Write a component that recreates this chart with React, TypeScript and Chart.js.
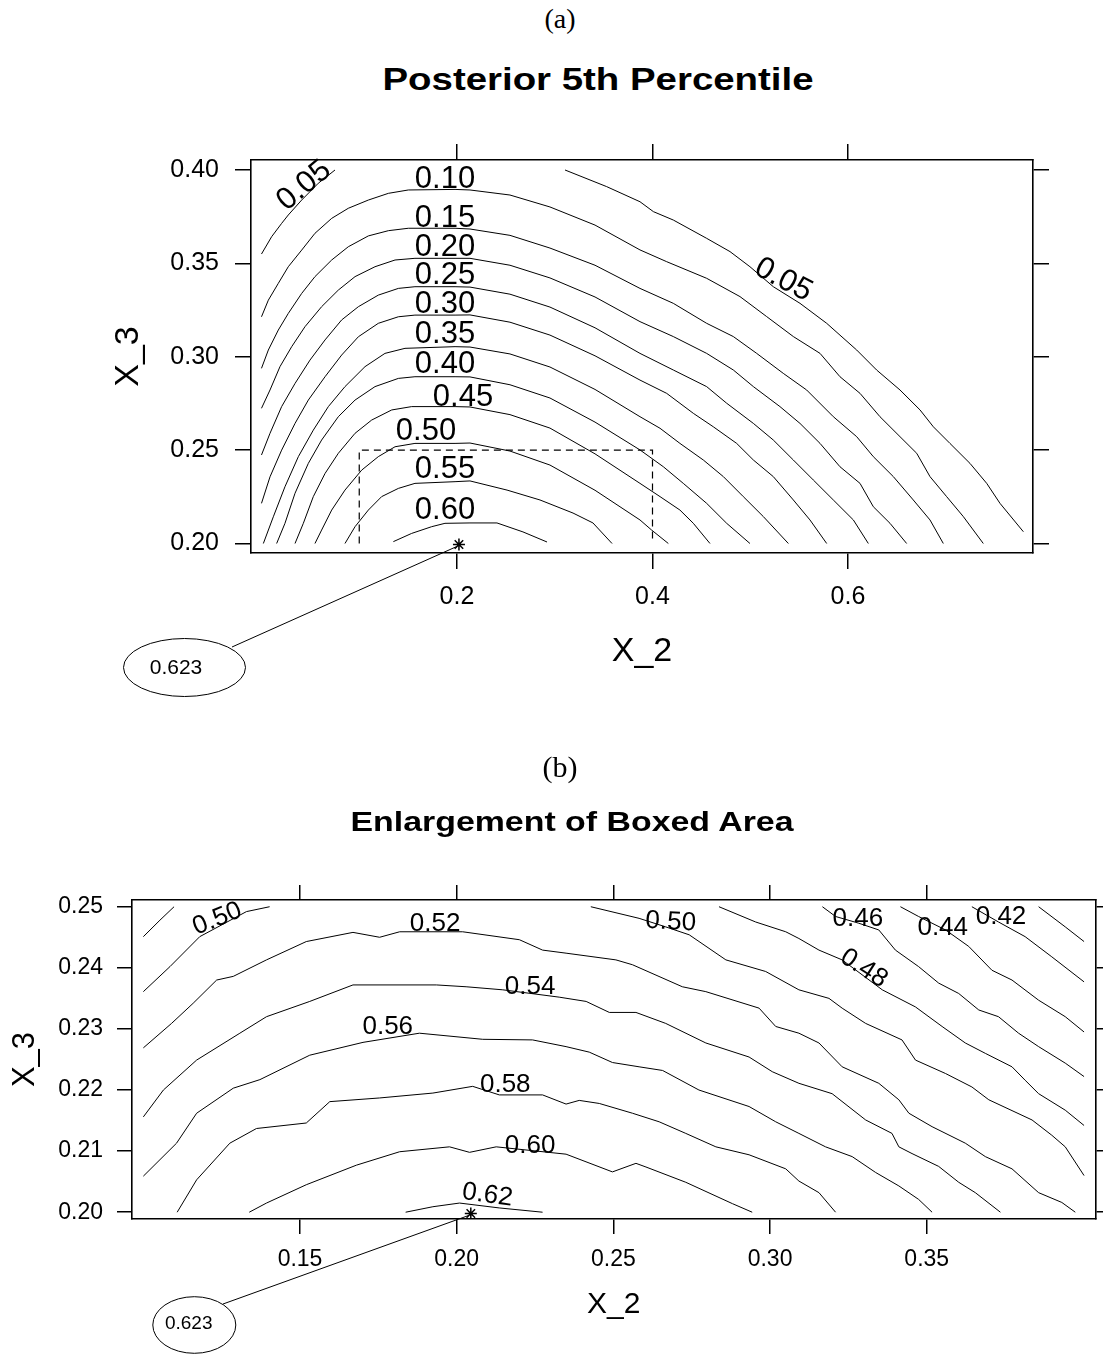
import React, { useEffect, useRef } from "react";
import { Chart, registerables } from "chart.js";

Chart.register(...registerables);

type Pt = [number, number];

const FONT = '"Liberation Sans", Arial, Helvetica, sans-serif';
const SERIF = '"Liberation Serif", "Times New Roman", serif';

/* ================= Panel (a): Posterior 5th Percentile ================= */
const A_X_TICKS = [0.2, 0.4, 0.6];
const A_Y_TICKS = [0.2, 0.25, 0.3, 0.35, 0.4];

const A_C005_LEFT: Pt[] = [[0.0, 0.355], [0.0104, 0.3643], [0.0206, 0.3714], [0.0274, 0.3759], [0.0411, 0.3839], [0.0581, 0.3929], [0.0752, 0.4]];
const A_C005_RIGHT: Pt[] = [[0.3105, 0.4], [0.3531, 0.3911], [0.3872, 0.383], [0.4009, 0.3777], [0.4213, 0.3732], [0.4554, 0.3634], [0.4793, 0.3563], [0.4997, 0.3482], [0.5236, 0.3375], [0.5509, 0.3286], [0.5782, 0.3179], [0.6089, 0.3036], [0.6293, 0.2929], [0.6532, 0.2822], [0.6737, 0.2715], [0.6873, 0.2625], [0.7043, 0.2536], [0.7248, 0.2429], [0.7419, 0.2322], [0.7555, 0.2215], [0.7794, 0.2063]];
const A_C010: Pt[] = [[0.0, 0.3214], [0.007, 0.3303], [0.0172, 0.3393], [0.0274, 0.3482], [0.0411, 0.3571], [0.0547, 0.3661], [0.0718, 0.3741], [0.0888, 0.3795], [0.1093, 0.3839], [0.1298, 0.3875], [0.1502, 0.3893], [0.198, 0.3896], [0.2133, 0.3893], [0.2542, 0.3866], [0.2951, 0.3802], [0.3412, 0.3705], [0.3872, 0.3572], [0.4145, 0.3509], [0.4554, 0.342], [0.4895, 0.3322], [0.5168, 0.3215], [0.5441, 0.3108], [0.5714, 0.3018], [0.5918, 0.2893], [0.6123, 0.2804], [0.6327, 0.2679], [0.6532, 0.2572], [0.6703, 0.2483], [0.6839, 0.2358], [0.7009, 0.2251], [0.718, 0.2144], [0.7384, 0.2]];
const A_C015: Pt[] = [[0.0, 0.2938], [0.007, 0.3036], [0.0172, 0.3143], [0.0274, 0.3232], [0.0411, 0.3339], [0.0547, 0.3429], [0.0718, 0.3518], [0.0888, 0.3589], [0.1093, 0.3647], [0.1298, 0.3675], [0.1502, 0.3688], [0.198, 0.3688], [0.2133, 0.3684], [0.2542, 0.365], [0.2951, 0.3582], [0.3412, 0.349], [0.3872, 0.3366], [0.4213, 0.3286], [0.4554, 0.3179], [0.4827, 0.3108], [0.5066, 0.3018], [0.5338, 0.2911], [0.5577, 0.2822], [0.585, 0.2679], [0.6089, 0.2572], [0.6259, 0.2465], [0.6464, 0.2358], [0.6668, 0.2233], [0.6839, 0.2126], [0.6975, 0.2]];
const A_C020: Pt[] = [[0.0, 0.2724], [0.0087, 0.2822], [0.0189, 0.2947], [0.0309, 0.3054], [0.0445, 0.3161], [0.0615, 0.3268], [0.0786, 0.3357], [0.0957, 0.3429], [0.1161, 0.3482], [0.1366, 0.3518], [0.157, 0.3527], [0.198, 0.3527], [0.2133, 0.3527], [0.2542, 0.349], [0.2951, 0.3422], [0.3412, 0.332], [0.3872, 0.3188], [0.4213, 0.3108], [0.4554, 0.3018], [0.4827, 0.2929], [0.5032, 0.284], [0.5304, 0.2733], [0.5509, 0.2643], [0.5714, 0.2536], [0.5918, 0.2411], [0.6123, 0.2322], [0.6259, 0.2197], [0.643, 0.2108], [0.66, 0.2]];
const A_C025: Pt[] = [[0.0, 0.2474], [0.0087, 0.259], [0.0206, 0.2733], [0.0343, 0.2857], [0.0496, 0.2982], [0.065, 0.309], [0.082, 0.3197], [0.0991, 0.3268], [0.1195, 0.333], [0.14, 0.3366], [0.157, 0.3375], [0.198, 0.3375], [0.2133, 0.3373], [0.2542, 0.3335], [0.2951, 0.3266], [0.3412, 0.3155], [0.3872, 0.3018], [0.4213, 0.2929], [0.4554, 0.284], [0.4759, 0.2751], [0.5032, 0.2643], [0.5236, 0.2554], [0.5441, 0.2447], [0.5645, 0.234], [0.585, 0.2233], [0.6055, 0.2126], [0.6208, 0.2]];
const A_C030: Pt[] = [[0.0, 0.2215], [0.0087, 0.2357], [0.0206, 0.25], [0.0343, 0.2643], [0.0479, 0.2768], [0.065, 0.2893], [0.082, 0.3009], [0.0991, 0.3107], [0.1195, 0.3179], [0.14, 0.3214], [0.157, 0.3223], [0.198, 0.3223], [0.2133, 0.3224], [0.2542, 0.3185], [0.2951, 0.3116], [0.3412, 0.3005], [0.3872, 0.2875], [0.4145, 0.2804], [0.4418, 0.2697], [0.4622, 0.2625], [0.4861, 0.2536], [0.5032, 0.2447], [0.5236, 0.2358], [0.5441, 0.2233], [0.5611, 0.2126], [0.5782, 0.2]];
const A_C035: Pt[] = [[0.0019, 0.2], [0.0121, 0.2143], [0.024, 0.2304], [0.0377, 0.2465], [0.053, 0.2607], [0.0684, 0.2733], [0.0854, 0.284], [0.1059, 0.2947], [0.1263, 0.3018], [0.1468, 0.3045], [0.198, 0.3054], [0.2133, 0.3052], [0.2542, 0.3015], [0.2951, 0.2945], [0.3412, 0.2825], [0.3872, 0.2679], [0.4077, 0.2617], [0.4281, 0.2536], [0.452, 0.2447], [0.4725, 0.2358], [0.4929, 0.2251], [0.5134, 0.2144], [0.539, 0.2]];
const A_C040: Pt[] = [[0.0155, 0.2], [0.024, 0.2108], [0.0343, 0.2269], [0.0479, 0.2429], [0.0615, 0.2554], [0.0786, 0.2679], [0.0957, 0.2768], [0.1161, 0.284], [0.14, 0.2884], [0.157, 0.2893], [0.198, 0.2893], [0.2133, 0.2892], [0.2542, 0.285], [0.2951, 0.2779], [0.3412, 0.265], [0.3872, 0.2501], [0.4111, 0.2411], [0.4315, 0.2322], [0.4554, 0.2215], [0.4759, 0.2108], [0.4997, 0.2]];
const A_C045: Pt[] = [[0.0343, 0.2], [0.0428, 0.2108], [0.053, 0.2251], [0.065, 0.2375], [0.0786, 0.2483], [0.0957, 0.259], [0.1127, 0.2661], [0.1332, 0.2715], [0.1536, 0.2733], [0.198, 0.2733], [0.2133, 0.2731], [0.2542, 0.269], [0.2951, 0.2618], [0.3412, 0.248], [0.3872, 0.2322], [0.4077, 0.2251], [0.4281, 0.2179], [0.4418, 0.2108], [0.4588, 0.2]];
const A_C050: Pt[] = [[0.0547, 0.2], [0.0615, 0.2072], [0.0718, 0.2179], [0.0854, 0.2286], [0.1025, 0.2393], [0.1195, 0.2465], [0.1366, 0.2518], [0.157, 0.2536], [0.198, 0.2536], [0.2133, 0.2538], [0.2542, 0.2495], [0.2951, 0.242], [0.3412, 0.2285], [0.3872, 0.2126], [0.3991, 0.2072], [0.4162, 0.2]];
const A_C055: Pt[] = [[0.0854, 0.2], [0.0957, 0.209], [0.1093, 0.2179], [0.1229, 0.2251], [0.14, 0.2295], [0.157, 0.2322], [0.198, 0.2331], [0.2133, 0.2335], [0.2512, 0.2286], [0.2849, 0.2233], [0.3187, 0.2163], [0.3391, 0.211], [0.3586, 0.2]];
const A_C060: Pt[] = [[0.1349, 0.201], [0.1536, 0.2054], [0.1741, 0.209], [0.1877, 0.2108], [0.2133, 0.211], [0.2409, 0.211], [0.2675, 0.2062], [0.2921, 0.2008]];

const A_CONTOURS: Pt[][] = [A_C005_LEFT, A_C005_RIGHT, A_C010, A_C015, A_C020, A_C025, A_C030, A_C035, A_C040, A_C045, A_C050, A_C055, A_C060];
const A_BOX: Pt[] = [[0.1, 0.2], [0.1, 0.25], [0.4, 0.25], [0.4, 0.2]];
const A_MAX: Pt[] = [[0.202, 0.1995]];
const A_MAX_TEXT = "0.623";

const A_LABEL_TEXT = ["0.05", "0.05", "0.10", "0.15", "0.20", "0.25", "0.30", "0.35", "0.40", "0.45", "0.50", "0.55", "0.60"];

/* ================= Panel (b): Enlargement of Boxed Area ================= */
const B_X_TICKS = [0.15, 0.2, 0.25, 0.3, 0.35];
const B_Y_TICKS = [0.2, 0.21, 0.22, 0.23, 0.24, 0.25];

const B_C040: Pt[] = [[0.3857, 0.25], [0.3942, 0.2467], [0.4002, 0.2443]];
const B_C042: Pt[] = [[0.3644, 0.25], [0.3729, 0.2475], [0.3814, 0.2451], [0.3899, 0.2418], [0.4002, 0.2377]];
const B_C044: Pt[] = [[0.3416, 0.25], [0.3474, 0.2484], [0.356, 0.2462], [0.3634, 0.2435], [0.3708, 0.2396], [0.3772, 0.238], [0.3857, 0.2347], [0.3942, 0.232], [0.4002, 0.2295]];
const B_C046: Pt[] = [[0.3167, 0.25], [0.3209, 0.2484], [0.3283, 0.2473], [0.3347, 0.2462], [0.34, 0.2429], [0.3474, 0.2402], [0.3538, 0.2375], [0.3602, 0.2358], [0.3666, 0.2331], [0.3729, 0.232], [0.3793, 0.2293], [0.3857, 0.2271], [0.3942, 0.2244], [0.4002, 0.2222]];
const B_C048_LEFT: Pt[] = [[0.1, 0.2451], [0.1053, 0.2478], [0.1098, 0.25]];
const B_C048_RIGHT: Pt[] = [[0.2837, 0.25], [0.2954, 0.2475], [0.305, 0.2459], [0.3092, 0.2448], [0.3156, 0.2429], [0.323, 0.2413], [0.3358, 0.2364], [0.3464, 0.2336], [0.3549, 0.2304], [0.3623, 0.2277], [0.3687, 0.226], [0.3772, 0.2238], [0.3814, 0.2216], [0.3857, 0.2194], [0.3942, 0.2167], [0.4002, 0.2142]];
const B_C050_LEFT: Pt[] = [[0.1, 0.2361], [0.1085, 0.2402], [0.118, 0.2451], [0.1329, 0.2492], [0.1403, 0.25]];
const B_C050_RIGHT: Pt[] = [[0.2428, 0.25], [0.2582, 0.2481], [0.2667, 0.2467], [0.2742, 0.2454], [0.2859, 0.2413], [0.2986, 0.2394], [0.3092, 0.2364], [0.3188, 0.235], [0.323, 0.2334], [0.3305, 0.2309], [0.3421, 0.2282], [0.3464, 0.2249], [0.356, 0.2227], [0.3644, 0.2205], [0.3698, 0.2184], [0.3836, 0.2151], [0.3899, 0.2126], [0.3942, 0.2107], [0.4002, 0.206]];
const B_C052: Pt[] = [[0.1, 0.2269], [0.109, 0.2309], [0.1159, 0.2342], [0.1234, 0.238], [0.1287, 0.2386], [0.1393, 0.2413], [0.152, 0.2443], [0.1669, 0.2458], [0.1754, 0.245], [0.1818, 0.2459], [0.2019, 0.2459], [0.22, 0.2446], [0.2274, 0.2429], [0.2349, 0.2424], [0.2508, 0.2413], [0.2561, 0.2405], [0.272, 0.2369], [0.2795, 0.2361], [0.2965, 0.2334], [0.3018, 0.2304], [0.3092, 0.2293], [0.3156, 0.2277], [0.323, 0.2238], [0.3347, 0.2211], [0.3411, 0.2184], [0.3443, 0.2162], [0.3517, 0.214], [0.3623, 0.2113], [0.3687, 0.2091], [0.3772, 0.2071], [0.3857, 0.2032], [0.3931, 0.2016], [0.3974, 0.2]];
const B_C054: Pt[] = [[0.1, 0.2156], [0.1064, 0.22], [0.117, 0.2249], [0.1308, 0.2293], [0.1393, 0.232], [0.1531, 0.2345], [0.1669, 0.2372], [0.1935, 0.2372], [0.203, 0.2369], [0.2147, 0.2364], [0.2327, 0.2352], [0.2413, 0.2345], [0.2487, 0.2327], [0.2572, 0.2327], [0.2667, 0.2309], [0.2795, 0.2277], [0.2933, 0.2254], [0.3007, 0.223], [0.3092, 0.2211], [0.3198, 0.2194], [0.3305, 0.2151], [0.3389, 0.2129], [0.3411, 0.2107], [0.3453, 0.2096], [0.3538, 0.2075], [0.3602, 0.2049], [0.3655, 0.2032], [0.3735, 0.2]];
const B_C056: Pt[] = [[0.1, 0.2059], [0.1106, 0.2113], [0.117, 0.2162], [0.1287, 0.2203], [0.1372, 0.2217], [0.1531, 0.2257], [0.1701, 0.2278], [0.1881, 0.2293], [0.2083, 0.2283], [0.2242, 0.2282], [0.2349, 0.2271], [0.2423, 0.2262], [0.2497, 0.2245], [0.2582, 0.2238], [0.2657, 0.2232], [0.2773, 0.22], [0.2933, 0.2173], [0.3018, 0.2148], [0.3092, 0.2129], [0.3177, 0.2107], [0.3262, 0.2091], [0.3337, 0.2065], [0.3411, 0.2043], [0.3474, 0.2021], [0.3517, 0.2]];
const B_C058: Pt[] = [[0.1108, 0.2], [0.117, 0.2053], [0.1276, 0.2113], [0.1361, 0.2137], [0.152, 0.2146], [0.1595, 0.2181], [0.1754, 0.2187], [0.1924, 0.2195], [0.2051, 0.2206], [0.2136, 0.2192], [0.2274, 0.2192], [0.2349, 0.2177], [0.2391, 0.2183], [0.2455, 0.2178], [0.2561, 0.2162], [0.2646, 0.2148], [0.2731, 0.2129], [0.2827, 0.2107], [0.2933, 0.2094], [0.305, 0.2071], [0.3092, 0.2051], [0.3156, 0.2032], [0.3209, 0.2]];
const B_C060: Pt[] = [[0.1338, 0.2], [0.1393, 0.2015], [0.152, 0.2045], [0.168, 0.2077], [0.1818, 0.2099], [0.1977, 0.2107], [0.2041, 0.2098], [0.2126, 0.2107], [0.2349, 0.2095], [0.2497, 0.2066], [0.2572, 0.208], [0.2604, 0.2074], [0.2731, 0.2049], [0.288, 0.2014], [0.2943, 0.2]];
const B_C062: Pt[] = [[0.1837, 0.2], [0.1924, 0.2009], [0.2009, 0.2015], [0.2136, 0.2007], [0.2274, 0.2]];

const B_CONTOURS: Pt[][] = [B_C040, B_C042, B_C044, B_C046, B_C048_LEFT, B_C048_RIGHT, B_C050_LEFT, B_C050_RIGHT, B_C052, B_C054, B_C056, B_C058, B_C060, B_C062];
const B_MAX: Pt[] = [[0.2045, 0.1998]];
const B_MAX_TEXT = "0.623";

/* ================= annotation placement (contour labels, callouts) ================= */
interface Label { t: string; x: number; y: number; r: number }
const A_LABEL_POS: [number, number, number][] = [
  [0.0435, 0.3916, -40], [0.5338, 0.3411, 28], [0.1877, 0.3948, 0], [0.1877, 0.3743, 0], [0.1877, 0.3586, 0],
  [0.1877, 0.3434, 0], [0.1877, 0.3282, 0], [0.1877, 0.3122, 0], [0.1877, 0.2961, 0], [0.2061, 0.2783, 0],
  [0.1683, 0.2599, 0], [0.1877, 0.2399, 0], [0.1877, 0.2176, 0],
];
const A_LABELS: Label[] = A_LABEL_TEXT.map((t, i) => ({ t, x: A_LABEL_POS[i][0], y: A_LABEL_POS[i][1], r: A_LABEL_POS[i][2] }));
const B_LABELS: Label[] = [
  { t: "0.50", x: 0.1236, y: 0.248, r: -22 },
  { t: "0.52", x: 0.1931, y: 0.2472, r: 0 },
  { t: "0.54", x: 0.2234, y: 0.2369, r: 0 },
  { t: "0.56", x: 0.178, y: 0.2303, r: 0 },
  { t: "0.58", x: 0.2155, y: 0.2208, r: 0 },
  { t: "0.60", x: 0.2234, y: 0.2109, r: 0 },
  { t: "0.62", x: 0.2098, y: 0.2028, r: 8 },
  { t: "0.50", x: 0.2683, y: 0.2475, r: 3 },
  { t: "0.48", x: 0.3299, y: 0.2399, r: 33 },
  { t: "0.46", x: 0.328, y: 0.248, r: 0 },
  { t: "0.44", x: 0.3551, y: 0.2466, r: 0 },
  { t: "0.42", x: 0.3737, y: 0.2483, r: 0 },
];

interface Callout { text: string; lx: number; ly: number; ex: number; ey: number; rx: number; ry: number; tx: number; ty: number; size: number }

interface PanelSpec {
  contours: Pt[][];
  box?: Pt[];
  max: Pt[];
  labels: Label[];
  labelSize: number;
  callout: Callout;
  xMin: number; xMax: number; yMin: number; yMax: number;
  xTicks: number[]; yTicks: number[];
  xDigits: number; yDigits: number;
  tickSize: number; tickLen: number;
  xPad: number; yPad: number;
  padding: { left: number; right: number; top: number; bottom: number };
  leftW: number; rightW: number; topH: number; bottomH: number;
  xTitleSize: number; yTitleSize: number; xTitlePadB: number; yTitlePadT: number;
}

function makePlugin(p: PanelSpec) {
  return {
    id: "contourAnnot",
    beforeDatasetsDraw(chart: any) {
      const { ctx, scales } = chart;
      const c = p.callout;
      const sx = scales.x.getPixelForValue(p.max[0][0]);
      const sy = scales.y.getPixelForValue(p.max[0][1]);
      ctx.save();
      ctx.strokeStyle = "#000";
      ctx.lineWidth = 1;
      ctx.beginPath();
      ctx.moveTo(sx - 2, sy + 2);
      ctx.lineTo(c.lx, c.ly);
      ctx.stroke();
      ctx.beginPath();
      ctx.ellipse(c.ex, c.ey, c.rx, c.ry, 0, 0, Math.PI * 2);
      ctx.stroke();
      ctx.fillStyle = "#000";
      ctx.font = `${c.size}px ${FONT}`;
      ctx.textAlign = "center";
      ctx.textBaseline = "middle";
      ctx.fillText(c.text, c.tx, c.ty);
      ctx.restore();
    },
    afterDatasetsDraw(chart: any) {
      const { ctx, scales } = chart;
      ctx.save();
      ctx.fillStyle = "#000";
      ctx.font = `${p.labelSize}px ${FONT}`;
      ctx.textAlign = "center";
      ctx.textBaseline = "middle";
      for (const l of p.labels) {
        const px = scales.x.getPixelForValue(l.x);
        const py = scales.y.getPixelForValue(l.y);
        ctx.save();
        ctx.translate(px, py);
        ctx.rotate((l.r * Math.PI) / 180);
        ctx.fillText(l.t, 0, 0);
        ctx.restore();
      }
      ctx.restore();
    },
  };
}

function buildChart(canvas: HTMLCanvasElement, p: PanelSpec, xTitle: string, yTitle: string) {
  const toXY = (c: Pt[]) => c.map(([x, y]) => ({ x, y }));
  const datasets: any[] = p.contours.map((c) => ({
    data: toXY(c),
    showLine: true,
    borderColor: "#000",
    borderWidth: 1,
    pointRadius: 0,
    fill: false,
    tension: 0,
  }));
  if (p.box) {
    datasets.push({ data: toXY(p.box), showLine: true, borderColor: "#000", borderWidth: 1.2, borderDash: [7, 5], pointRadius: 0, fill: false });
  }
  datasets.push({ data: toXY(p.max), showLine: false, pointStyle: "star", pointRadius: 6, borderColor: "#000", backgroundColor: "#000", borderWidth: 1.5 });

  const grid = { drawOnChartArea: false, drawTicks: true, tickLength: p.tickLen, color: "#000", lineWidth: 1.5, tickWidth: 1.5 };
  const border = { display: true, color: "#000", width: 1.6 };
  const setTicks = (vals: number[]) => (s: any) => {
    s.ticks = vals.map((v) => ({ value: v }));
  };
  const tickFont = { family: FONT, size: p.tickSize };

  return new Chart(canvas, {
    type: "scatter",
    data: { datasets },
    plugins: [makePlugin(p)],
    options: {
      animation: false,
      responsive: false,
      devicePixelRatio: 1,
      events: [],
      layout: { padding: p.padding },
      plugins: { legend: { display: false }, tooltip: { enabled: false } },
      scales: {
        x: {
          type: "linear", position: "bottom", min: p.xMin, max: p.xMax,
          afterBuildTicks: setTicks(p.xTicks),
          afterFit: (s: any) => { s.height = p.bottomH; },
          ticks: { font: tickFont, color: "#000", padding: p.xPad, autoSkip: false, maxRotation: 0, callback: (v: any) => Number(v).toFixed(p.xDigits) },
          grid, border,
          title: { display: true, text: xTitle, color: "#000", font: { family: FONT, size: p.xTitleSize }, padding: { top: 0, bottom: p.xTitlePadB } },
        },
        x2: {
          type: "linear", position: "top", min: p.xMin, max: p.xMax,
          afterBuildTicks: setTicks(p.xTicks),
          afterFit: (s: any) => { s.height = p.topH; },
          ticks: { display: false },
          grid, border,
        },
        y: {
          type: "linear", position: "left", min: p.yMin, max: p.yMax,
          afterBuildTicks: setTicks(p.yTicks),
          afterFit: (s: any) => { s.width = p.leftW; },
          ticks: { font: tickFont, color: "#000", padding: p.yPad, autoSkip: false, callback: (v: any) => Number(v).toFixed(p.yDigits) },
          grid, border,
          title: { display: true, text: yTitle, color: "#000", font: { family: FONT, size: p.yTitleSize }, padding: { top: p.yTitlePadT, bottom: 0 } },
        },
        y2: {
          type: "linear", position: "right", min: p.yMin, max: p.yMax,
          afterBuildTicks: setTicks(p.yTicks),
          afterFit: (s: any) => { s.width = p.rightW; },
          ticks: { display: false },
          grid, border,
        },
      },
    } as any,
  });
}

const PANEL_A: PanelSpec = {
  contours: A_CONTOURS,
  box: A_BOX,
  max: A_MAX,
  labels: A_LABELS,
  labelSize: 31,
  callout: { text: A_MAX_TEXT, lx: 232, ly: 547, ex: 184.5, ey: 567.5, rx: 61, ry: 29, tx: 176, ty: 568, size: 21 },
  xMin: -0.01074, xMax: 0.78926, yMin: 0.19491, yMax: 0.40535,
  xTicks: A_X_TICKS, yTicks: A_Y_TICKS, xDigits: 1, yDigits: 2,
  tickSize: 25, tickLen: 16, xPad: 13, yPad: 16,
  padding: { left: 101, right: 50, top: 40, bottom: 37 },
  leftW: 150, rightW: 20, topH: 20, bottomH: 130,
  xTitleSize: 34, yTitleSize: 34, xTitlePadB: 11, yTitlePadT: 7,
};

const PANEL_B: PanelSpec = {
  contours: B_CONTOURS,
  max: B_MAX,
  labels: B_LABELS,
  labelSize: 26,
  callout: { text: B_MAX_TEXT, lx: 223, ly: 564, ex: 194.3, ey: 585, rx: 41.5, ry: 28.3, tx: 188.7, ty: 584, size: 19 },
  xMin: 0.09638, xMax: 0.40385, yMin: 0.19889, yMax: 0.2511,
  xTicks: B_X_TICKS, yTicks: B_Y_TICKS, xDigits: 2, yDigits: 2,
  tickSize: 23, tickLen: 15, xPad: 12, yPad: 14,
  padding: { left: 0, right: 0, top: 140, bottom: 26 },
  leftW: 132, rightW: 6, topH: 20, bottomH: 110,
  xTitleSize: 30, yTitleSize: 31, xTitlePadB: 6, yTitlePadT: 7,
};

export default function App() {
  const refA = useRef<HTMLCanvasElement | null>(null);
  const refB = useRef<HTMLCanvasElement | null>(null);

  useEffect(() => {
    if (!refA.current || !refB.current) return;
    const a = buildChart(refA.current, PANEL_A, "X_2", "X_3");
    const b = buildChart(refB.current, PANEL_B, "X_2", "X_3");
    return () => {
      a.destroy();
      b.destroy();
    };
  }, []);

  const abs = (extra: React.CSSProperties): React.CSSProperties => ({ position: "absolute", whiteSpace: "nowrap", lineHeight: 1, color: "#000", ...extra });

  return (
    <div style={{ position: "absolute", left: 0, top: 0, width: 1103, height: 1355, background: "#fff", overflow: "hidden" }}>
      <canvas ref={refA} width={1103} height={620} style={{ position: "absolute", left: 0, top: 100, width: 1103, height: 620 }} />
      <canvas ref={refB} width={1103} height={615} style={{ position: "absolute", left: 0, top: 740, width: 1103, height: 615 }} />
      <div style={abs({ left: 560, top: 5, transform: "translateX(-50%)", fontFamily: SERIF, fontSize: 28 })}>(a)</div>
      <div style={abs({ left: 598, top: 63, transform: "translateX(-50%) scaleX(1.2)", fontFamily: FONT, fontWeight: 700, fontSize: 32 })}>Posterior 5th Percentile</div>
      <div style={abs({ left: 560, top: 752, transform: "translateX(-50%)", fontFamily: SERIF, fontSize: 30 })}>(b)</div>
      <div style={abs({ left: 572, top: 808, transform: "translateX(-50%) scaleX(1.21)", fontFamily: FONT, fontWeight: 700, fontSize: 28 })}>Enlargement of Boxed Area</div>
    </div>
  );
}
